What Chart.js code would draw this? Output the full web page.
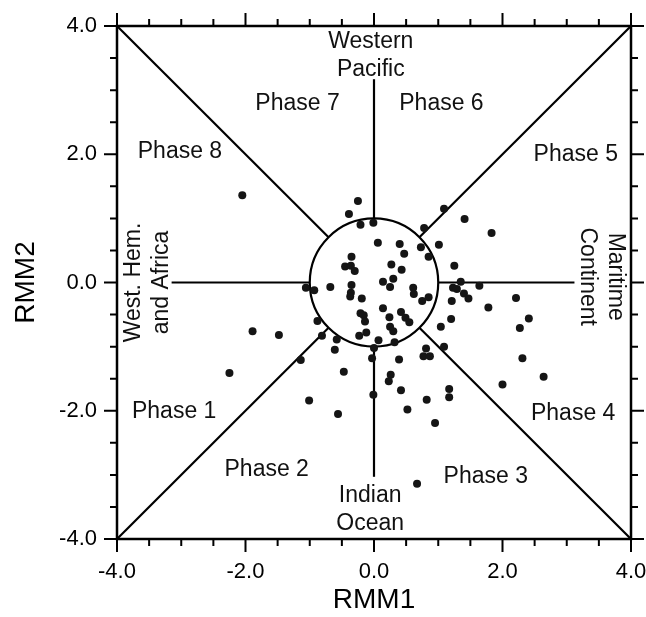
<!DOCTYPE html>
<html lang="en">
<head>
<meta charset="UTF-8">
<title>RMM phase diagram</title>
<script src="https://cdn.jsdelivr.net/npm/chart.js"></script>
<style>
  html, body { margin: 0; padding: 0; background: #fff; }
  #wrap { width: 646px; height: 617px; }
</style>
</head>
<body>
<div id="wrap"><canvas id="phaseChart"></canvas></div>
<script>
// RMM index values (one dot per day)
const rmm1 = [-2.05, -0.25, -0.39, -0.21, -0.01, 0.06, -0.35, -0.45, -0.36, -0.30,
  -1.06, -0.93, -0.68, -0.35, -0.36, -0.37, -0.19, -0.21, -0.16, -0.14,
  -0.12, -0.23, 0.07, -0.88, -0.81, -0.58, -1.89, -1.48, -0.61, -1.14,
  -2.25, -0.47, -0.03, -0.01, -1.01, -0.56, 0.00,
  1.09, 1.41, 0.78, 0.40, 0.47, 0.73, 1.01, 0.85, 0.27, 0.43,
  0.30, 0.14, 0.25, 1.25, 1.35, 1.23, 1.29, 1.40, 1.47, 1.64,
  0.61, 0.62, 0.75, 0.85, 1.21, 0.14, 0.24, 0.42, 0.49, 0.55,
  0.25, 0.30, 0.32, 1.20, 1.04, 1.09, 0.81, 0.77, 0.87, 0.39,
  0.26, 0.23, 0.42, 0.82, 1.17, 1.17, 0.52, 0.95, 0.67, 1.83,
  1.78, 2.21, 2.41, 2.27, 2.31, 2.64, 2.00];
const rmm2 = [1.36, 1.27, 1.07, 0.90, 0.93, 0.62, 0.40, 0.25, 0.26, 0.18,
  -0.08, -0.12, -0.07, -0.04, -0.16, -0.22, -0.25, -0.48, -0.51, -0.61,
  -0.78, -0.83, -0.90, -0.60, -0.83, -0.89, -0.76, -0.82, -1.05, -1.21,
  -1.41, -1.39, -1.18, -1.75, -1.84, -2.05, -1.02,
  1.15, 0.99, 0.85, 0.60, 0.45, 0.55, 0.59, 0.40, 0.28, 0.20,
  0.06, 0.01, -0.07, 0.26, 0.01, -0.08, -0.10, -0.17, -0.25, -0.05,
  -0.08, -0.18, -0.29, -0.23, -0.29, -0.40, -0.54, -0.46, -0.55, -0.62,
  -0.69, -0.76, -0.93, -0.57, -0.69, -1.00, -1.03, -1.15, -1.15, -1.20,
  -1.44, -1.54, -1.68, -1.83, -1.66, -1.79, -1.98, -2.19, -3.14, 0.77,
  -0.39, -0.24, -0.56, -0.71, -1.18, -1.47, -1.59];

const axisMin = -4, axisMax = 4;
const majorTicks = [-4, -2, 0, 2, 4];
const minorStep = 0.5;

// phase boundaries: unit circle plus spokes running out from it
const circleRadius = 1;
const spokeEnds = [[4, 4], [-4, 4], [-4, -4], [4, -4], [3.12, 0], [-3.15, 0], [0, 3.17], [0, -3.03]];

const phaseNames = ['Phase 1', 'Phase 2', 'Phase 3', 'Phase 4', 'Phase 5', 'Phase 6', 'Phase 7', 'Phase 8'];
const phaseAt = [[-3.11, -2.01], [-1.67, -2.92], [1.74, -3.02], [3.10, -2.05],
  [3.14, 1.99], [1.05, 2.79], [-1.19, 2.79], [-3.02, 2.04]];

const regionNames = [['Western', 'Pacific'], ['Indian', 'Ocean'], ['West. Hem.', 'and Africa'], ['Maritime', 'Continent']];
const regionAt = [[-0.05, 3.54, 0], [-0.06, -3.54, 0], [-3.52, 0.0, -90], [3.54, 0.09, 90]];

const FONT = '"Liberation Sans", Arial, Helvetica, sans-serif';

const phasePlugin = {
    id: 'phaseDiagram',
    beforeDatasetsDraw(chart) {
        const {ctx, scales: {x, y}} = chart;
        ctx.save();
        ctx.strokeStyle = '#000';
        ctx.lineWidth = 2.2;
        const cx = x.getPixelForValue(0), cy = y.getPixelForValue(0);
        const rx = x.getPixelForValue(circleRadius) - cx;
        const ry = cy - y.getPixelForValue(circleRadius);
        ctx.beginPath();
        ctx.ellipse(cx, cy, rx, ry, 0, 0, Math.PI * 2);
        ctx.stroke();
        spokeEnds.forEach(([ex, ey]) => {
            const len = Math.hypot(ex, ey);
            ctx.beginPath();
            ctx.moveTo(x.getPixelForValue(ex / len * circleRadius), y.getPixelForValue(ey / len * circleRadius));
            ctx.lineTo(x.getPixelForValue(ex), y.getPixelForValue(ey));
            ctx.stroke();
        });

        ctx.fillStyle = '#111';
        ctx.font = '23px ' + FONT;
        ctx.textAlign = 'center';
        ctx.textBaseline = 'middle';
        phaseNames.forEach((name, i) => {
            ctx.fillText(name, x.getPixelForValue(phaseAt[i][0]), y.getPixelForValue(phaseAt[i][1]));
        });
        const lh = 28;
        regionNames.forEach((lines, i) => {
            const [px, py, rot] = regionAt[i];
            ctx.save();
            ctx.translate(x.getPixelForValue(px), y.getPixelForValue(py));
            ctx.rotate(rot * Math.PI / 180);
            lines.forEach((t, j) => ctx.fillText(t, 0, (j - (lines.length - 1) / 2) * lh));
            ctx.restore();
        });
        ctx.restore();
    },
    afterDatasetsDraw(chart) {
        const {ctx, chartArea: a, scales: {x, y}} = chart;
        ctx.save();
        ctx.strokeStyle = '#000';
        ctx.lineWidth = 2.5;
        ctx.strokeRect(a.left, a.top, a.right - a.left, a.bottom - a.top);
        ctx.lineWidth = 2;
        for (let v = axisMin; v <= axisMax + 1e-9; v += minorStep) {
            const len = majorTicks.includes(v) ? 13 : 7;
            const px = x.getPixelForValue(v), py = y.getPixelForValue(v);
            ctx.beginPath();
            ctx.moveTo(px, a.bottom); ctx.lineTo(px, a.bottom + len);
            ctx.moveTo(px, a.top); ctx.lineTo(px, a.top - len);
            ctx.moveTo(a.left, py); ctx.lineTo(a.left - len, py);
            ctx.moveTo(a.right, py); ctx.lineTo(a.right + len, py);
            ctx.stroke();
        }
        ctx.restore();
    }
};

function axis(title, fitFn, titlePad) {
    return {
        type: 'linear',
        min: axisMin,
        max: axisMax,
        grid: { display: false },
        border: { display: false },
        ticks: {
            stepSize: majorTicks[1] - majorTicks[0],
            padding: 12,
            color: '#000',
            font: { family: FONT, size: 22 },
            callback: v => Number(v).toFixed(1)
        },
        title: {
            display: true,
            text: title,
            color: '#000',
            font: { family: FONT, size: 28 },
            padding: titlePad
        },
        afterFit: fitFn
    };
}

new Chart(document.getElementById('phaseChart'), {
    type: 'scatter',
    data: {
        datasets: [{
            data: rmm1.map((v, i) => ({ x: v, y: rmm2[i] })),
            backgroundColor: '#151515',
            borderWidth: 0,
            pointRadius: 4
        }]
    },
    options: {
        responsive: true,
        maintainAspectRatio: false,
        animation: false,
        devicePixelRatio: 1,
        layout: { padding: { top: 26, right: 15, left: 0, bottom: 0 } },
        plugins: { legend: { display: false }, tooltip: { enabled: false } },
        scales: {
            x: axis('RMM1', s => { s.height = 78; s.paddingLeft = 0; s.paddingRight = 0; }, { top: 0, bottom: 0 }),
            y: axis('RMM2', s => { s.width = 117; s.paddingTop = 0; s.paddingBottom = 0; }, { top: 9, bottom: 0 })
        }
    },
    plugins: [phasePlugin]
});
</script>
</body>
</html>
